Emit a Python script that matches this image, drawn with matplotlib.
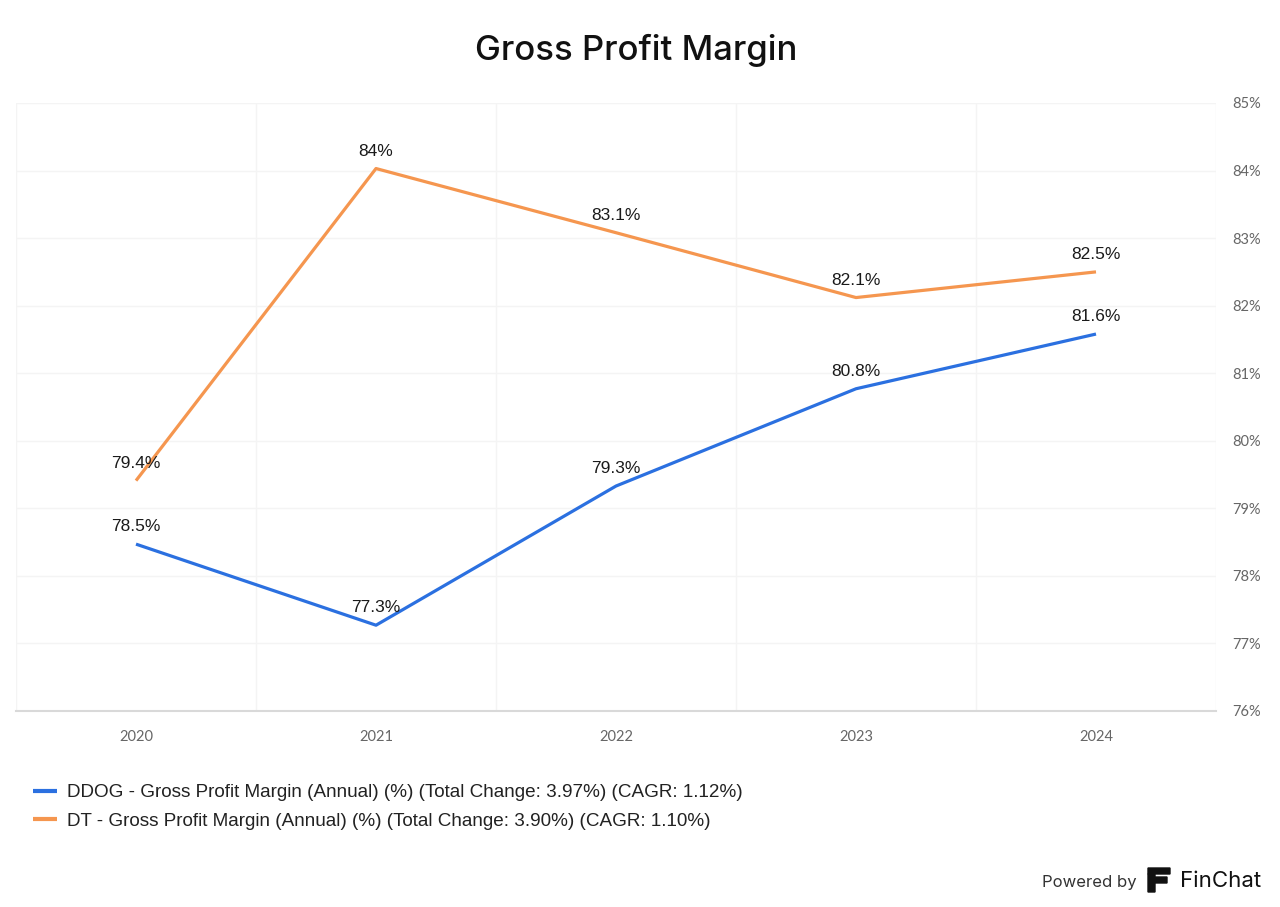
import matplotlib
matplotlib.use("Agg")
import matplotlib.pyplot as plt
from matplotlib.patches import FancyBboxPatch

years = ["2020", "2021", "2022", "2023", "2024"]
ddog = [78.47, 77.27, 79.33, 80.77, 81.58]
dt = [79.41, 84.03, 83.08, 82.12, 82.50]
ddog_labels = ["78.5%", "77.3%", "79.3%", "80.8%", "81.6%"]
dt_labels = ["79.4%", "84%", "83.1%", "82.1%", "82.5%"]
yticks = [76, 77, 78, 79, 80, 81, 82, 83, 84, 85]
legend_labels = [
    "DDOG - Gross Profit Margin (Annual) (%) (Total Change: 3.97%) (CAGR: 1.12%)",
    "DT - Gross Profit Margin (Annual) (%) (Total Change: 3.90%) (CAGR: 1.10%)",
]

BLUE = "#2b70e0"
ORANGE = "#f5964f"

W, H = 1280, 907
fig = plt.figure(figsize=(W / 100, H / 100), dpi=100)
ax = fig.add_axes([16 / W, (H - 711) / H, 1200 / W, 608 / H])

x = list(range(len(years)))
l1, = ax.plot(x, ddog, color=BLUE, lw=2.3, solid_capstyle="butt")
l2, = ax.plot(x, dt, color=ORANGE, lw=2.3, solid_capstyle="butt")

for xi, v, t in zip(x, ddog, ddog_labels):
    ax.annotate(t, (xi, v), xytext=(0, 7), textcoords="offset points",
                ha="center", va="bottom", fontsize=12.5, color="#1a1a1a",
                family="Liberation Sans")
for xi, v, t in zip(x, dt, dt_labels):
    ax.annotate(t, (xi, v), xytext=(0, 7), textcoords="offset points",
                ha="center", va="bottom", fontsize=12.5, color="#1a1a1a",
                family="Liberation Sans")

ax.set_xlim(-0.5, len(years) - 0.5)
ax.set_ylim(76, 85)
ax.set_yticks(yticks)
ax.set_yticklabels([f"{v}%" for v in yticks])
ax.yaxis.tick_right()
ax.set_xticks(x)
ax.set_xticklabels(years)
ax.set_xticks([i - 0.5 for i in range(len(years) + 1)], minor=True)
ax.tick_params(axis="both", which="both", length=0, colors="#666666", labelsize=10.5)
ax.tick_params(axis="x", pad=14)
ax.tick_params(axis="y", pad=12)
for lab in ax.get_xticklabels() + ax.get_yticklabels():
    lab.set_family("Lato")
ax.grid(axis="y", which="major", color="#f4f4f4", lw=1)
ax.grid(axis="x", which="minor", color="#f4f4f4", lw=1)
ax.set_axisbelow(True)
for s in ["top", "right", "left"]:
    ax.spines[s].set_visible(False)
ax.spines["bottom"].set_color("#d9d9d9")
ax.spines["bottom"].set_linewidth(1.5)

fig.text(636 / W, 1 - 50 / H, "Gross Profit Margin", ha="center", va="center",
         fontsize=25, family="Inter", weight="medium", color="#111111")

leg = fig.legend([l1, l2], legend_labels, loc="upper left",
                 bbox_to_anchor=(16 / W, 1 - 767 / H), frameon=False,
                 prop={"family": "Liberation Sans", "size": 13.6},
                 handlelength=1.25, handletextpad=0.55, labelspacing=0.6)
for t in leg.get_texts():
    t.set_color("#222222")
for lh in leg.get_lines():
    lh.set_linewidth(3)

fig.text(1137 / W, 1 - 882 / H, "Powered by", ha="right", va="center",
         fontsize=12, family="Inter", color="#333333")
fig.text(1180 / W, 1 - 881 / H, "FinChat", ha="left", va="center",
         fontsize=16, family="Inter", color="#111111")
# simple logo
fig.patches.append(FancyBboxPatch((1148 / W, 1 - 874 / H), 22 / W, 6 / H,
                                  boxstyle="round,pad=0.0", transform=fig.transFigure,
                                  color="#111111"))
fig.patches.append(FancyBboxPatch((1148 / W, 1 - 892 / H), 7 / W, 18 / H,
                                  boxstyle="round,pad=0.0", transform=fig.transFigure,
                                  color="#111111"))
fig.patches.append(FancyBboxPatch((1155 / W, 1 - 883 / H), 12 / W, 6 / H,
                                  boxstyle="round,pad=0.0", transform=fig.transFigure,
                                  color="#111111"))

fig.savefig("out.png", dpi=100, facecolor="white")
